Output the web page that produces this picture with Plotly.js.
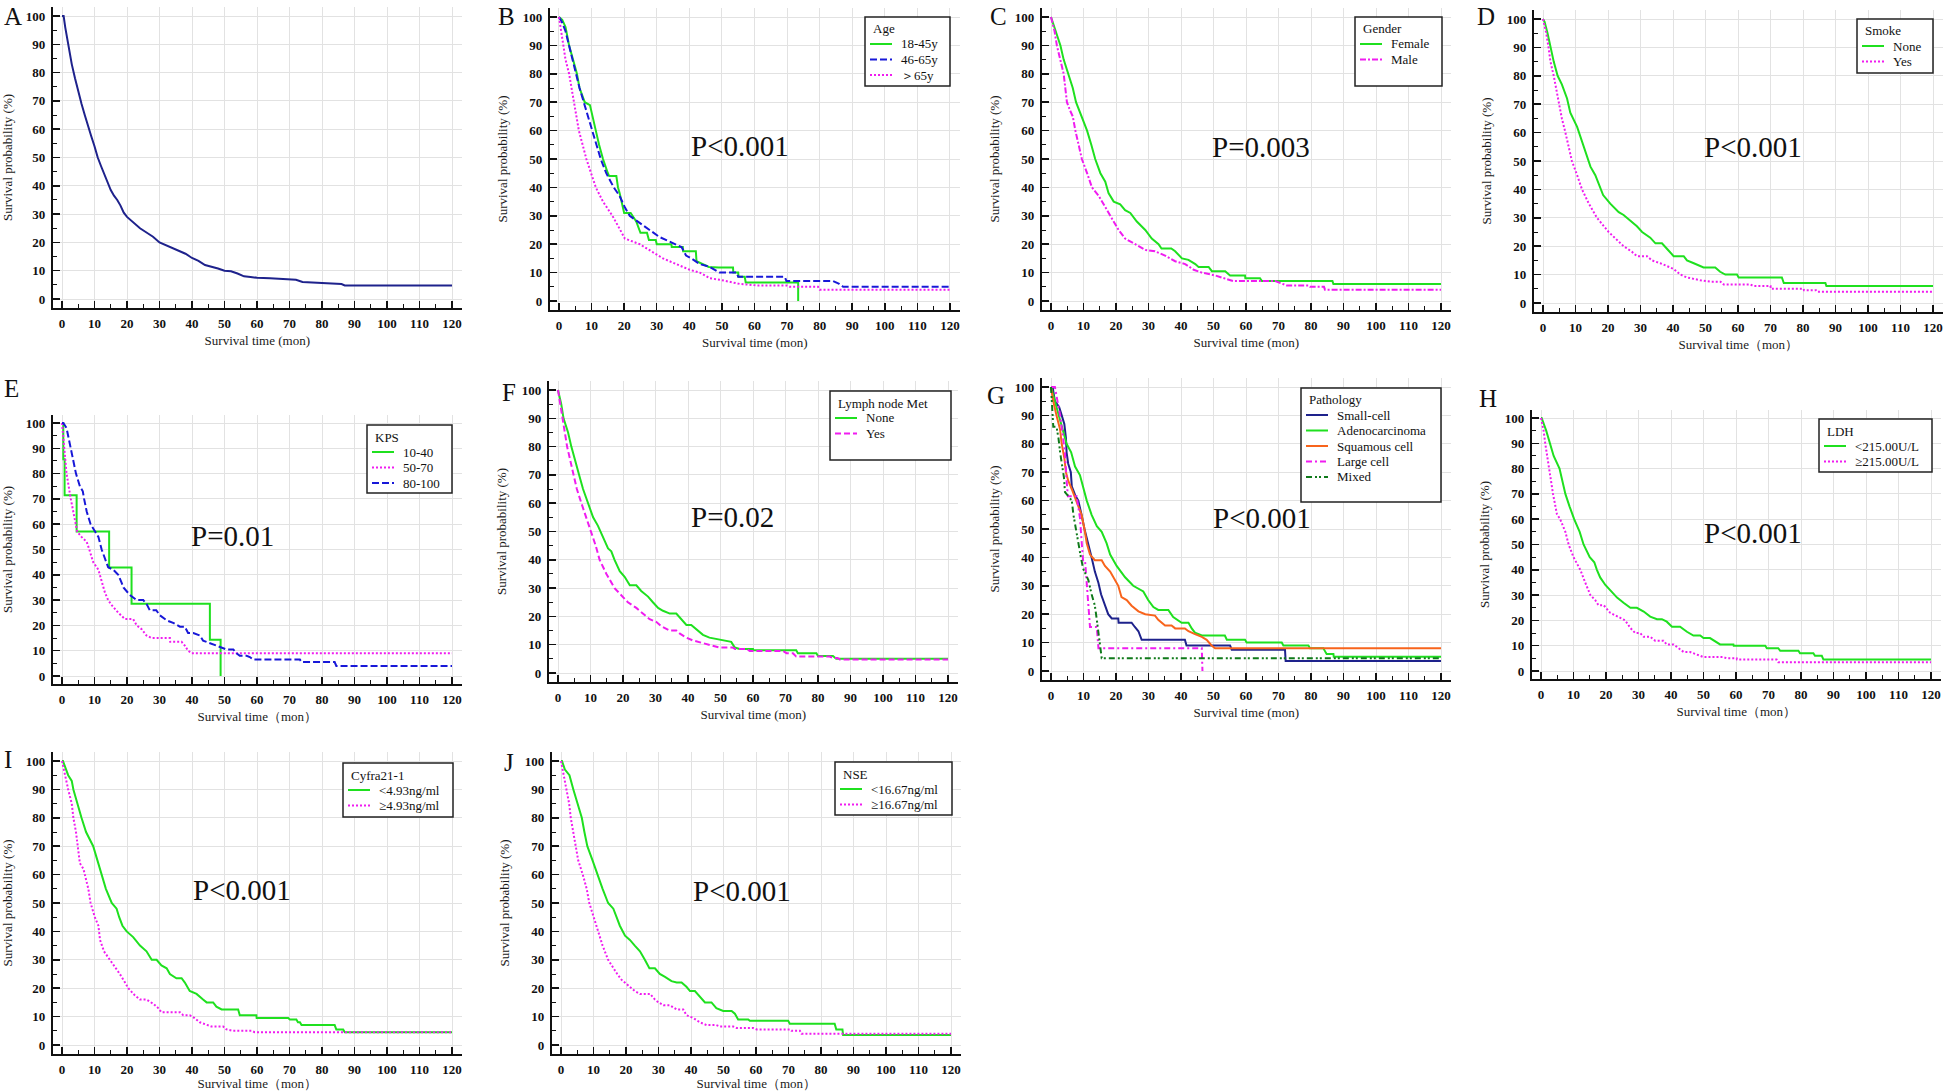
<!DOCTYPE html>
<html><head><meta charset="utf-8">
<script src="https://cdn.plot.ly/plotly-3.0.1.min.js"></script>
<style>html,body{margin:0;padding:0;background:#fff;}#chart{width:1946px;height:1091px;}</style>
</head><body><div id="chart"></div>
<script>
// ===== DATA: Kaplan-Meier curves as [time (months), survival (%)] =====
const allPatients = [[0,100],[0.5,100],[1,96],[2,89],[3,83],[4,78],[5,73],[6,69],[7,65],[8,61],[9,57.5],[10,54],[11,50],[12,47],[13,44],[14,41],[15,38.5],[16,36.5],[17,35],[18,33],[19,30.5],[20,29],[22,27],[24,25],[26,23.5],[28,22],[30,20],[32,19],[34,18],[36,17],[38,16],[40,14.5],[42,13.5],[44,12],[46,11.5],[48,10.8],[50,10],[52,9.8],[54,9],[56,8],[58,7.8],[60,7.5],[64,7.3],[68,7],[72,6.8],[74,6],[80,5.6],[86,5.3],[87,4.8],[120,4.8]];

const ageGroups = ['18-45y','46-65y','\uFF1E65y'];
const age18_45 = [[0,100],[1,99],[2,96.5],[3.1,90],[4.3,85],[5.5,80],[6.3,75],[7.9,70],[9.5,69],[10.4,65],[11.3,60],[12.3,55],[13.5,50],[15,45],[15.4,44],[17.6,44],[18.1,40],[18.6,38],[19.5,33],[20,31],[22,31],[23.7,28],[25,24],[27,24],[27.6,21.5],[29.7,21.5],[30,20],[34.5,20],[34.6,19],[38,19],[38.1,17.5],[42,17.5],[42.2,14],[44,13],[46,12],[49,11.8],[53.4,11.8],[53.5,10],[55,10],[55.1,8.5],[57,8.5],[57.3,6.5],[73.4,6.5],[73.4,0]];
const age46_65 = [[0,100],[1,98],[2,95],[3.1,90],[5.1,80],[6.3,75],[7.6,70],[8.9,65],[10.2,60],[11.5,55],[12.8,50],[14.5,45],[16.8,40],[18.6,37],[20.2,33],[21.7,30],[24.3,28],[27.8,25],[30.9,22.5],[34.5,20.5],[37.6,19],[39,16],[40.6,15],[43.2,13],[46.3,12],[49.3,10],[54.5,10],[55,8.5],[69.3,8.5],[69.8,7],[84.1,7],[86,6],[87.2,5],[120,5]];
const ageOver65 = [[0,100],[0.5,96],[1.4,90],[2,85],[3.1,80],[4.5,70],[6.1,60],[8.4,50],[11.3,40],[13.5,35],[16.4,30],[18.8,25],[20.2,22],[24.8,20],[28.9,17],[31.9,15],[36,13],[40.1,11],[43.2,10],[46.3,8],[49.3,7.5],[55.5,6],[60.6,5.5],[69.8,5.5],[70.8,5],[79.5,5],[80,4],[120,4]];

const genderGroups = ['Female','Male'];
const female = [[0,100],[1.5,95],[2.9,90],[3.9,85],[5.4,80],[6.7,75],[7.7,70],[9.5,65],[11.1,60],[12.4,55],[13.6,50],[15.2,45],[16.7,42],[17.7,38],[19.3,35],[21.3,34],[22.8,32],[24.4,31],[26.4,28],[29,25],[31,22],[33.1,20],[34,18.5],[37,18.5],[38.2,17.5],[40.3,15],[42.3,14.5],[44.4,13],[45.4,12],[48.5,12],[49.5,10.5],[53.6,10.5],[55.1,9],[59.7,9],[59.8,8],[64.3,8],[64.9,7],[86.6,7],[86.9,6],[120,6]];
const male = [[0,100],[1.1,95],[1.8,90],[2.9,85],[3.9,80],[4.4,75],[4.9,70],[5.9,67],[6.7,65],[7.5,60],[8.5,55],[9.5,50],[11.1,45],[12.6,40],[14.7,37],[16.7,33],[18.2,30],[20.8,25],[22.8,22],[25.9,20],[29,18],[32,17.5],[35.1,16],[38.2,14],[41.3,13],[43.9,11],[46.4,10],[50.5,9],[53.6,8],[56.1,7],[69,7],[70,6.5],[72.5,5.5],[79.2,5.5],[79.7,5],[84,5],[84.3,4],[120,4]];

const smokeGroups = ['None','Yes'];
const smokeNone = [[0,100],[0.5,99],[1.4,95],[2.3,90],[3.3,85],[4.5,80],[5.8,77],[7.4,72],[8.4,67],[10.5,62],[12,57],[13.3,52],[14.6,48],[16.1,45],[17.1,42],[18.5,38],[20.7,35],[23.3,32],[24.8,31],[26.9,29],[28.9,27],[30.5,25],[33,23],[34.6,21],[36.6,21],[38.2,19],[40.2,16.5],[43.3,16.5],[44.3,15],[46.4,14],[48.4,13],[49.4,12.5],[53,12.5],[54.5,11],[56.1,10],[59.7,10],[60.2,9],[73.5,9],[74.1,7],[86.9,7],[87.2,6],[120,6]];
const smokeYes = [[0,100],[1,95],[1.7,90],[2.3,85],[3.3,80],[4.1,75],[4.8,70],[5.8,65],[6.9,60],[7.9,55],[8.9,50],[10.5,45],[12,40],[14.1,35],[16.6,30],[20.2,25],[22.8,22],[24.8,20],[27.4,18],[28.9,16.5],[32,16.5],[33.5,15],[36.1,14],[38.2,13],[40.2,12],[42.3,10],[44.3,9],[46.4,8.5],[48.4,8],[51.5,7.5],[54.6,7.5],[55.6,6.5],[63.8,6.5],[64.8,6],[70,6],[70.1,5],[80.2,5],[80.3,4.5],[84,4.5],[84.3,4],[120,4]];

const kpsGroups = ['10-40','50-70','80-100'];
const kps10_40 = [[0,100],[0.4,85.7],[0.8,71.4],[4.5,57.1],[14.5,42.9],[21.4,28.6],[45.5,14.3],[48.8,0]];
const kps50_70 = [[0,100],[0.3,95],[0.6,90],[1.4,80],[2.7,70],[3.5,65],[4.3,60],[4.7,57],[6,55],[7.6,53],[8.4,50],[9.6,45],[11.2,42],[12.2,37],[13.2,33],[14.2,30],[15.3,28],[17.3,25],[19.4,22.5],[21.9,22.5],[23,20],[24.5,18.5],[26,16],[27.6,15],[33.2,15],[33.3,13.5],[36.8,13.5],[37.8,12],[38.8,10],[39.9,9],[120,9]];
const kps80_100 = [[0,100],[0.4,100],[1.4,98],[1.9,95],[2.7,90],[3.7,85],[4.3,80],[5.5,75],[6.4,73],[6.8,70],[7.6,65],[8.8,60],[10.1,57],[11.2,55],[12.2,50],[13.5,45],[14.2,43],[15.8,42],[17.3,40],[18.3,37],[18.9,35],[20.9,32],[23,30],[25,30],[26,28.5],[27,26],[29,26],[30.1,24],[32.2,22],[34.2,21],[36.3,19.5],[37.8,19.5],[38.8,17],[40.4,17],[42.4,16],[43.4,14],[46.5,12.5],[48.6,11.5],[50.6,10.5],[52.7,10.5],[53.7,9],[54.7,8],[56.8,8],[57.8,7.5],[58.8,6.5],[73.2,6.5],[73.7,5.5],[83.9,5.5],[84.4,4],[120,4]];

const lymphGroups = ['None','Yes'];
const lymphNone = [[0,100],[1,95],[1.7,90],[3.1,85],[4.1,80],[5.4,75],[6.5,70],[7.7,65],[9.2,60],[10.8,55],[12.3,52],[13.8,48],[15.4,44],[16.4,43],[17.4,40],[19,36],[20.5,34],[22.1,31],[24.1,31],[25.6,29],[27.7,27],[29.2,25],[30.8,23],[32.3,22],[34.4,21],[36.4,21],[37.9,19],[39.5,17],[41,17],[42.5,15.5],[44.6,13.5],[46.6,12.5],[48.7,12],[51.8,11.5],[53.3,11],[54.4,9],[55.9,8.5],[60,8.5],[60.1,8],[73.3,8],[73.8,7],[79.5,7],[80,6],[84.6,6],[85.6,5],[120,5]];
const lymphYes = [[0,100],[0.7,95],[1.5,90],[2.8,80],[4.8,70],[5.8,65],[7.2,60],[8.7,55],[10.3,50],[11.6,45],[12.8,40],[14.9,35],[17.4,30],[20,27],[21.5,25],[24.1,23],[26.2,21],[28.2,19],[30.3,18],[31.8,16.5],[34.4,15],[36.4,15],[37.4,14],[39.5,12.5],[41.5,11.5],[44.6,10.5],[47.7,9.5],[49.7,9],[53.8,9],[54.5,8.5],[58,8.5],[59,7.8],[69.2,7.8],[70.3,7],[72.3,7],[73.3,5.8],[83.6,5.8],[84.5,5.3],[86,5.3],[86.7,4.8],[120,4.8]];

const pathologyGroups = ['Small-cell','Adenocarcinoma','Squamous cell','Large cell','Mixed'];
const smallCell = [[0,100],[0.5,100],[1.2,95],[2.5,93],[3.3,90],[4.1,87],[4.6,82],[4.8,77],[5.3,73],[6.1,70],[6.4,65],[7.4,62],[8.4,60],[8.9,57],[9.4,55],[10.3,50],[11,47],[11.7,44],[12.5,40],[13.5,35],[14.6,31],[15.4,27],[16.1,25],[16.8,23],[17.6,20],[18.7,18.5],[20.7,18.5],[20.8,17],[24.8,17],[25.8,15.5],[26.9,14],[27.9,11],[41.2,11],[41.7,9],[55.1,9],[55.6,7.5],[72,7.5],[72.2,3.5],[120,3.5]];
const adenocarcinoma = [[0,100],[1.2,95],[2.5,90],[3.5,85],[4.8,80],[6.2,77],[7.4,72],[8.9,69],[9.9,65],[11,60],[12.5,55],[14.1,51],[15.6,49],[17.1,45],[18.2,41],[20.2,37],[22.8,33],[25.3,30],[28.4,28],[29.9,25],[31.5,22.5],[33,21.5],[36.1,21.5],[37.6,19],[40.2,17],[42.3,17],[43.3,15],[44.3,13.5],[46.4,12.5],[53.5,12.5],[54.1,11],[59.7,11],[60.2,10],[71,10],[71.5,9],[79.2,9],[79.7,8],[83.8,8],[84.3,7],[84.8,6],[86.9,6],[87,5],[120,5]];
const squamous = [[0,100],[0.7,95],[1.7,90],[2.8,85],[3.3,80],[4.1,75],[4.6,70],[5.3,67],[6.4,64],[7.4,61],[8.4,58],[9.4,55],[10.3,50],[11,45],[12,41],[13.5,39],[15.6,39],[16.6,37],[18.2,35],[19.2,33],[20.7,30],[21.7,26],[23.3,25],[24.8,23],[26.9,21],[29,20],[31,19.5],[32,19.5],[33,18],[35.1,16],[37.1,16],[38.2,15],[41.2,15],[42.3,14],[44.3,13],[46.4,12],[47.9,11],[49.4,9],[50.5,8],[120,8]];
const largeCell = [[0,100],[1.2,100],[2.8,90],[3.5,83],[4.3,77],[4.8,67],[5.1,62],[5.2,61.5],[7.9,61.5],[8.4,57],[8.9,54],[9.4,46],[9.9,38.5],[10.5,38.5],[11,31],[11.5,23],[12,15.5],[14.1,15.5],[14.6,8],[46.4,8],[46.6,0]];
const mixed = [[0,100],[0.2,95],[0.4,90],[0.7,86],[1.7,86],[2.3,82],[2.8,77],[3.3,73],[4,68],[4.3,63],[6.4,60],[6.9,55],[7.6,50],[8.4,45],[9.2,40],[9.9,36],[11.5,32],[12.5,27],[13.5,23],[14.1,18],[14.6,14],[15.1,9],[15.6,4.5],[120,4.5]];

const ldhGroups = ['<215.00U/L','\u2265215.00U/L'];
const ldhLow = [[0,100],[0.2,100],[1.6,95],[2.7,90],[3.9,85],[5.7,80],[6.5,75],[7.5,70],[8.8,65],[10.2,60],[11.9,55],[13.1,50],[15,45],[16.4,43],[17.2,40],[18.2,37],[19.8,34],[21.3,32],[23.4,29],[25.4,27],[27.5,25],[29.5,25],[31.6,23.5],[33.6,21.5],[35.7,20.5],[37.2,20.5],[38.7,19.5],[40.3,17.5],[42.8,17.5],[44.9,15.5],[46.9,14],[49,14],[50,13],[52,13],[53.1,12],[55.1,10.5],[59.2,10.5],[59.3,10],[69,10],[69.5,9],[73,9],[73.6,8],[79.2,8],[79.7,7],[83.8,7],[84.3,6],[86.4,6],[86.9,4.5],[120,4.5]];
const ldhHigh = [[0,100],[0.8,95],[1.3,90],[2.4,80],[3.7,70],[4.9,62],[5.9,60],[7.5,55],[8.5,50],[10,45],[12.1,40],[13.6,35],[15.2,30],[16.7,28],[17.7,26],[19.3,26],[21.3,23],[24.4,21],[25.9,20],[27.5,17],[29,15],[30.5,15],[31.6,13.5],[33.6,13.5],[35.1,12],[37.7,12],[38.7,10.5],[40.8,10.5],[42.3,9],[43.9,7.5],[45.9,7.5],[48,6.5],[50,5.5],[56.1,5.5],[57.2,5],[60.2,5],[60.3,4.5],[72.5,4.5],[73,3.5],[120,3.5]];

const cyfraGroups = ['<4.93ng/ml','\u22654.93ng/ml'];
const cyfraLow = [[0,100],[0.3,100],[1.9,95],[3,93],[3.5,90],[4.7,85],[6,80],[7.4,75],[9.6,70],[10.9,65],[12.2,60],[13.5,55],[15.3,50],[16.8,48],[17.6,45],[18.6,42],[19.9,40],[21.9,38],[24,35],[26,33],[27.6,30],[29.1,30],[30.6,28],[32.2,27],[33.2,25],[35.2,23.5],[36.8,23.5],[37.8,22],[39.3,19],[41.4,18],[43.4,16],[44.5,15],[46.5,15],[47.5,13.5],[49.1,12.5],[54.2,12.5],[54.7,10.5],[59.8,10.5],[59.9,9.5],[69.6,9.5],[70.1,9],[72.1,9],[72.6,8],[73.2,8],[73.7,7],[83.9,7],[84.4,5.5],[86.5,5.5],[87,4.5],[120,4.5]];
const cyfraHigh = [[0,100],[0.9,95],[1.9,90],[3,85],[3.5,80],[4.3,75],[4.8,70],[5.5,64],[6.6,62],[7.4,58],[8.1,55],[8.8,50],[10.1,45],[11.2,42],[11.7,37],[12.9,33],[14.8,30],[16.8,27],[17.8,25],[19.4,22],[20.4,20],[22.4,17.5],[24,16],[26,16],[28.1,14.5],[29.6,13],[30.6,11.5],[36.3,11.5],[37.3,10.5],[39.3,10.5],[40.8,9.5],[42.4,8],[44.5,7],[46,6.5],[49.6,6.5],[50.6,5.5],[52.7,5],[58.3,5],[59.3,4.5],[120,4.5]];

const nseGroups = ['<16.67ng/ml','\u226516.67ng/ml'];
const nseLow = [[0,100],[0.3,100],[1.2,97],[2.6,95],[3.8,90],[5,85],[6.4,80],[7.2,75],[8.1,70],[9.7,65],[11.2,60],[12.8,55],[14.5,50],[16.1,48],[17.1,45],[18.1,42],[19.7,38.5],[21.2,37],[22.7,35],[24.3,33],[25.8,30],[27.2,27],[28.9,27],[30.4,25],[32,24],[34,22.5],[35.6,22],[37.1,22],[38.6,20.5],[39.7,19],[41.2,19],[42.7,17],[44.3,15],[46.3,15],[47.8,13],[49.9,12],[52.5,12],[53.5,11],[54.5,9],[57.6,9],[58.1,8.5],[69.9,8.5],[70.4,7.5],[84.2,7.5],[84.7,5.5],[86.6,5.5],[86.8,3.5],[120,3.5]];
const nseHigh = [[0,100],[0.9,95],[1.7,90],[2.5,85],[3,80],[3.8,75],[4.6,70],[5.3,65],[6.7,60],[7.9,55],[8.7,50],[10.1,45],[11.5,40],[12.8,35],[14.5,30],[16.1,27],[17.3,25],[18.6,23],[20.7,21],[22.7,19],[24.3,18],[27.4,18],[28.9,16],[30,15],[31.5,14],[33.5,14],[35.6,12.5],[37.6,12.5],[38.6,10.5],[40.7,9.5],[42.7,8],[44.8,7],[47.8,7],[48.9,6.5],[53,6.5],[54,6],[59.1,6],[60.2,5.5],[70.4,5.5],[70.9,5],[73.5,5],[74,4],[120,4]];

const legendTitles = {B:'Age', C:'Gender', D:'Smoke', E:'KPS', F:'Lymph node Met', G:'Pathology', H:'LDH', I:'Cyfra21-1', J:'NSE'};
const pValues = {B:'P<0.001', C:'P=0.003', D:'P<0.001', E:'P=0.01', F:'P=0.02', G:'P<0.001', H:'P<0.001', I:'P<0.001', J:'P<0.001'};
const xTicks = [0,10,20,30,40,50,60,70,80,90,100,110,120];
const yTicks = [0,10,20,30,40,50,60,70,80,90,100];
const yTitle = 'Survival probability (%)';
const xTitleA = 'Survival time (mon)';
const xTitleB = 'Survival time\uFF08mon\uFF09';

// ===== STYLES =====
const GREEN='#1fe01f', MAGENTA='#f01cf0', BLUE='#1818d8', NAVY='#1e228c', ORANGE='#f8641c', DKGREEN='#0f7a1a';
const FONT = "'Liberation Serif','Times New Roman',serif";
const W=1946, H=1091;
const XR=[-2.8,123], YR=[-3.2,103.2];

const panels = [
 {k:'A', px:[62,452,16,299], let:[12.7,17], xt:xTitleA, curves:[[allPatients,NAVY,'solid']]},
 {k:'B', px:[559,950,17,301], let:[506,17], xt:xTitleA, p:[55.6,54.6], box:[865,17,950,86], groups:ageGroups,
  curves:[[age18_45,GREEN,'solid'],[age46_65,BLUE,'7px,3px'],[ageOver65,MAGENTA,'2px,2px']]},
 {k:'C', px:[1051,1441,17,301], let:[999,17], xt:xTitleA, p:[64.6,54.2], box:[1355,17,1442,86], groups:genderGroups,
  curves:[[female,GREEN,'solid'],[male,MAGENTA,'6px,2px,2px,2px']]},
 {k:'D', px:[1543,1933,19,303], let:[1486,17], xt:xTitleB, p:[64.6,54.9], box:[1857,19,1933,73], groups:smokeGroups,
  curves:[[smokeNone,GREEN,'solid'],[smokeYes,MAGENTA,'2px,2px']]},
 {k:'E', px:[62,452,423,676], let:[11.5,388], xt:xTitleB, p:[52.6,55.3], box:[367,425,452,493], groups:kpsGroups,
  curves:[[kps10_40,GREEN,'solid','hv'],[kps50_70,MAGENTA,'2px,2px'],[kps80_100,BLUE,'7px,3px']]},
 {k:'F', px:[558,948,390,673], let:[508.5,392], xt:xTitleA, p:[53.8,55.1], box:[830,391,951,460], groups:lymphGroups,
  curves:[[lymphNone,GREEN,'solid'],[lymphYes,MAGENTA,'6px,3px']]},
 {k:'G', px:[1051,1441,387,671], let:[996,395], xt:xTitleA, p:[64.9,53.9], box:[1301,388,1441,502], groups:pathologyGroups,
  curves:[[smallCell,NAVY,'solid'],[adenocarcinoma,GREEN,'solid'],[squamous,ORANGE,'solid'],[largeCell,MAGENTA,'6px,3px,2px,3px'],[mixed,DKGREEN,'6px,3px,2px,2px,2px,3px']]},
 {k:'H', px:[1541,1931,418,671], let:[1488,398], xt:xTitleB, p:[65.2,54.5], box:[1819,419,1932,472], groups:ldhGroups,
  curves:[[ldhLow,GREEN,'solid'],[ldhHigh,MAGENTA,'2px,2px']]},
 {k:'I', px:[62,452,761,1045], let:[8,759], xt:xTitleB, p:[55.4,54.6], box:[343,763,453,817], groups:cyfraGroups,
  curves:[[cyfraLow,GREEN,'solid'],[cyfraHigh,MAGENTA,'2px,2px']]},
 {k:'J', px:[561,951,761,1045], let:[509,762], xt:xTitleB, p:[55.7,54.2], box:[835,762,952,815], groups:nseGroups,
  curves:[[nseLow,GREEN,'solid'],[nseHigh,MAGENTA,'2px,2px']]}
];

const esc = s => s.replace(/</g,'&lt;').replace(/>/g,'&gt;');
const tickFont = {family:FONT, size:13, color:'#111', weight:'bold'};
const titleFont = {family:FONT, size:13, color:'#1a1a1a'};

const traces=[], shapes=[], annotations=[];
const layout = {width:W, height:H, margin:{l:0,r:0,t:0,b:0}, paper_bgcolor:'#fff', plot_bgcolor:'#fff',
  showlegend:false, font:{family:FONT, color:'#111'}};

panels.forEach((p,i)=>{
  const n=i+1, xa=i?'xaxis'+n:'xaxis', ya=i?'yaxis'+n:'yaxis', xr=i?'x'+n:'x', yr=i?'y'+n:'y';
  const [x0,x120,y100,y0]=p.px; const kx=(x120-x0)/120, ky=(y0-y100)/100;
  const L=x0+XR[0]*kx, R=x0+XR[1]*kx, B=y0-YR[0]*ky, T=y0-YR[1]*ky;
  layout[xa] = {domain:[L/W,R/W], anchor:yr, range:XR, tickmode:'array', tickvals:xTicks, ticktext:xTicks.map(String),
    ticks:'inside', ticklen:7, tickwidth:1.5, tickcolor:'#111', showline:true, linecolor:'#111', linewidth:2,
    showgrid:true, gridcolor:'#e2e2e2', gridwidth:1, zeroline:false, tickfont:tickFont, ticklabelstandoff:2,
    minor:{ticks:'inside', ticklen:4, tickwidth:1, tickcolor:'#111', dtick:5, tick0:0, showgrid:false},
    title:{text:p.xt, font:titleFont, standoff:6}, fixedrange:true};
  layout[ya] = {domain:[1-B/H,1-T/H], anchor:xr, range:YR, tickmode:'array', tickvals:yTicks, ticktext:yTicks.map(String),
    ticks:'inside', ticklen:7, tickwidth:1.5, tickcolor:'#111', showline:true, linecolor:'#111', linewidth:2,
    showgrid:true, gridcolor:'#e2e2e2', gridwidth:1, zeroline:false, tickfont:tickFont, ticklabelstandoff:3,
    minor:{ticks:'inside', ticklen:4, tickwidth:1, tickcolor:'#111', dtick:5, tick0:0, showgrid:false},
    title:{text:yTitle, font:titleFont, standoff:12}, fixedrange:true};
  p.curves.forEach((c,j)=>{
    traces.push({type:'scatter', mode:'lines', x:c[0].map(d=>d[0]), y:c[0].map(d=>d[1]), xaxis:xr, yaxis:yr,
      name: p.groups?p.groups[j]:'All patients', showlegend:false, hoverinfo:'skip',
      line:{color:c[1], width:2, dash:c[2], shape:c[3]||'linear'}});
  });
  // panel letter
  annotations.push({xref:'paper', yref:'paper', x:p.let[0]/W, y:1-p.let[1]/H, text:p.k, showarrow:false,
    xanchor:'center', yanchor:'middle', font:{family:FONT, size:25, color:'#111'}});
  if(p.p){
    annotations.push({xref:xr, yref:yr, x:p.p[0], y:p.p[1], text:esc(pValues[p.k]), showarrow:false,
      xanchor:'center', yanchor:'middle', font:{family:FONT, size:29, color:'#111'}});
  }
  if(p.box){
    const [bx1,by1,bx2,by2]=p.box;
    shapes.push({type:'rect', xref:'paper', yref:'paper', x0:bx1/W, x1:bx2/W, y0:1-by2/H, y1:1-by1/H,
      line:{color:'#222', width:1.5}, fillcolor:'#ffffff', layer:'above'});
    annotations.push({xref:'paper', yref:'paper', x:(bx1+6)/W, y:1-(by1+12)/H, text:legendTitles[p.k], showarrow:false,
      xanchor:'left', yanchor:'middle', font:{family:FONT, size:13, color:'#111'}});
    p.groups.forEach((g,j)=>{
      const yy=by1+27+15.5*j; const c=p.curves[j];
      shapes.push({type:'line', xref:'paper', yref:'paper', x0:(bx1+5)/W, x1:(bx1+27)/W, y0:1-yy/H, y1:1-yy/H,
        line:{color:c[1], width:2, dash:c[2]}, layer:'above'});
      annotations.push({xref:'paper', yref:'paper', x:(bx1+34)/W, y:1-yy/H, text:esc(g), showarrow:false,
        xanchor:'left', yanchor:'middle', font:{family:FONT, size:13, color:'#111'}});
    });
  }
});
layout.shapes=shapes; layout.annotations=annotations;
Plotly.newPlot('chart', traces, layout, {displayModeBar:false, staticPlot:true});
</script></body></html>
